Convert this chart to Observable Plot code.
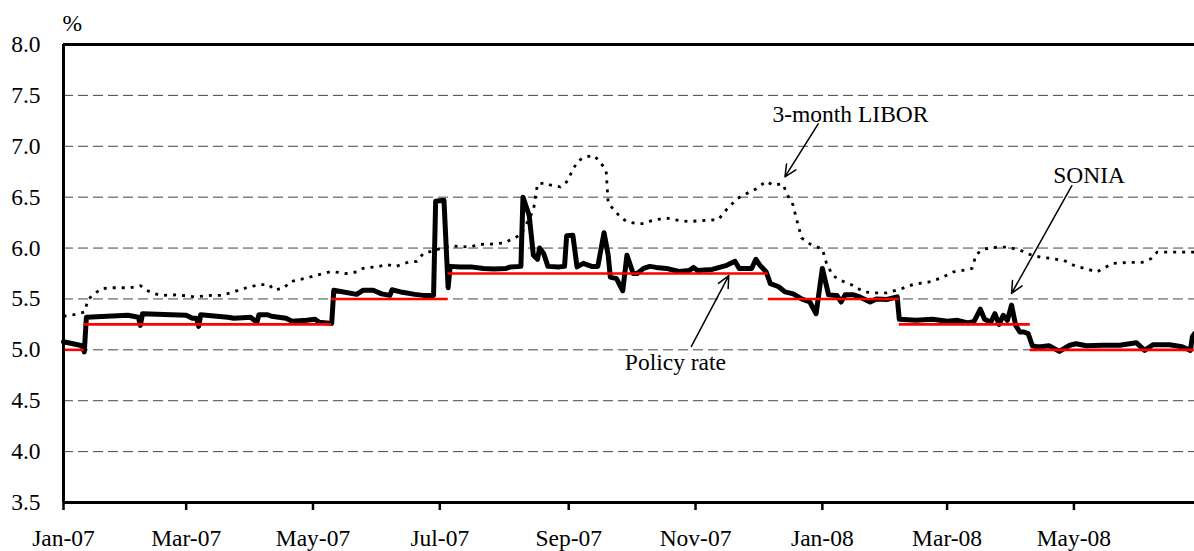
<!DOCTYPE html>
<html>
<head>
<meta charset="utf-8">
<script src="https://cdn.jsdelivr.net/npm/d3@7"></script>
<script src="https://cdn.jsdelivr.net/npm/@observablehq/plot@0.6"></script>
<style>
  html, body { margin: 0; padding: 0; background: #fff; }
  #chart svg g[aria-label="x-axis tick"] path,
  #chart svg g[aria-label="x-axis"] .tick line { stroke-width: 2.5px; stroke: #000; }
</style>
</head>
<body>
<div id="chart"></div>
<script>
// ---- Data ----
const soniaData = [
  ["2007-01-01",5.08],["2007-01-10",5.04],["2007-01-11",4.98],["2007-01-12",5.32],
  ["2007-02-01",5.34],["2007-02-06",5.32],["2007-02-07",5.24],["2007-02-08",5.355],
  ["2007-03-01",5.34],["2007-03-04",5.31],["2007-03-06",5.31],["2007-03-07",5.23],["2007-03-08",5.345],
  ["2007-03-21",5.32],["2007-03-24",5.31],["2007-04-01",5.32],["2007-04-04",5.27],["2007-04-05",5.345],
  ["2007-04-09",5.345],["2007-04-11",5.33],["2007-04-18",5.31],["2007-04-21",5.28],["2007-04-28",5.29],
  ["2007-05-02",5.30],["2007-05-04",5.27],["2007-05-10",5.26],["2007-05-11",5.585],["2007-05-15",5.57],
  ["2007-05-22",5.545],["2007-05-25",5.585],["2007-05-30",5.585],["2007-06-03",5.55],["2007-06-07",5.535],
  ["2007-06-08",5.59],["2007-06-13",5.565],["2007-06-19",5.545],["2007-06-23",5.535],["2007-06-28",5.535],
  ["2007-06-29",6.46],["2007-07-03",6.47],["2007-07-05",5.61],["2007-07-06",5.82],["2007-07-11",5.815],
  ["2007-07-16",5.815],["2007-07-22",5.80],["2007-07-27",5.795],["2007-08-02",5.80],["2007-08-04",5.815],
  ["2007-08-09",5.82],["2007-08-10",6.50],["2007-08-13",6.32],["2007-08-15",5.93],["2007-08-17",5.89],
  ["2007-08-18",6.00],["2007-08-20",5.945],["2007-08-22",5.82],["2007-08-27",5.815],["2007-08-30",5.82],
  ["2007-08-31",6.12],["2007-09-03",6.125],["2007-09-05",5.815],["2007-09-08",5.85],["2007-09-12",5.82],
  ["2007-09-15",5.82],["2007-09-18",6.15],["2007-09-20",5.93],["2007-09-21",5.715],["2007-09-24",5.70],
  ["2007-09-27",5.58],["2007-09-29",5.93],["2007-10-02",5.75],["2007-10-04",5.75],["2007-10-07",5.80],
  ["2007-10-10",5.82],["2007-10-13",5.81],["2007-10-18",5.80],["2007-10-24",5.77],["2007-10-29",5.78],
  ["2007-10-31",5.81],["2007-11-02",5.78],["2007-11-09",5.79],["2007-11-16",5.83],["2007-11-20",5.87],
  ["2007-11-22",5.80],["2007-11-28",5.80],["2007-11-30",5.89],["2007-12-02",5.83],["2007-12-05",5.765],
  ["2007-12-07",5.65],["2007-12-11",5.62],["2007-12-14",5.57],["2007-12-18",5.55],["2007-12-22",5.50],
  ["2007-12-26",5.47],["2007-12-29",5.355],["2008-01-01",5.80],["2008-01-04",5.54],["2008-01-08",5.535],
  ["2008-01-10",5.47],["2008-01-12",5.54],["2008-01-16",5.54],["2008-01-19",5.52],["2008-01-24",5.47],
  ["2008-01-27",5.50],["2008-02-01",5.495],["2008-02-06",5.52],["2008-02-07",5.30],["2008-02-15",5.29],
  ["2008-02-23",5.30],["2008-03-01",5.28],["2008-03-06",5.29],["2008-03-11",5.265],["2008-03-14",5.28],
  ["2008-03-17",5.40],["2008-03-19",5.30],["2008-03-22",5.27],["2008-03-24",5.355],["2008-03-26",5.25],
  ["2008-03-28",5.34],["2008-03-30",5.29],["2008-04-01",5.44],["2008-04-03",5.24],["2008-04-05",5.175],
  ["2008-04-07",5.175],["2008-04-09",5.16],["2008-04-11",5.04],["2008-04-13",5.03],["2008-04-15",5.03],
  ["2008-04-19",5.04],["2008-04-24",4.985],["2008-04-29",5.045],["2008-05-02",5.06],["2008-05-07",5.04],
  ["2008-05-15",5.045],["2008-05-23",5.045],["2008-05-31",5.07],["2008-06-04",4.995],["2008-06-08",5.05],
  ["2008-06-16",5.05],["2008-06-22",5.03],["2008-06-26",4.995],["2008-06-27",5.13],["2008-06-28",5.16]
];

const liborData = [
  ["2007-01-01",5.33],["2007-01-06",5.345],["2007-01-11",5.37],["2007-01-13",5.50],["2007-01-16",5.55],
  ["2007-01-19",5.60],["2007-01-24",5.61],["2007-02-02",5.61],["2007-02-07",5.63],["2007-02-10",5.585],
  ["2007-02-14",5.55],["2007-02-17",5.535],["2007-02-25",5.54],["2007-03-05",5.52],["2007-03-13",5.535],
  ["2007-03-18",5.535],["2007-03-24",5.57],["2007-03-30",5.61],["2007-04-05",5.64],["2007-04-10",5.64],
  ["2007-04-12",5.59],["2007-04-17",5.605],["2007-04-20",5.67],["2007-04-28",5.705],["2007-05-02",5.73],
  ["2007-05-10",5.77],["2007-05-17",5.75],["2007-05-22",5.765],["2007-05-25",5.80],["2007-06-02",5.82],
  ["2007-06-05",5.84],["2007-06-10",5.82],["2007-06-15",5.856],["2007-06-20",5.87],["2007-06-23",5.945],
  ["2007-06-29",5.98],["2007-07-02",6.00],["2007-07-07",6.02],["2007-07-11",6.015],["2007-07-16",6.01],
  ["2007-07-19",6.035],["2007-07-26",6.04],["2007-08-01",6.05],["2007-08-07",6.11],["2007-08-09",6.13],
  ["2007-08-15",6.37],["2007-08-17",6.63],["2007-08-21",6.64],["2007-08-23",6.62],["2007-08-28",6.60],
  ["2007-08-31",6.65],["2007-09-05",6.845],["2007-09-08",6.89],["2007-09-13",6.91],["2007-09-16",6.85],
  ["2007-09-19",6.76],["2007-09-20",6.44],["2007-09-23",6.37],["2007-09-26",6.30],["2007-09-29",6.26],
  ["2007-10-04",6.24],["2007-10-07",6.24],["2007-10-11",6.27],["2007-10-15",6.285],["2007-10-18",6.295],
  ["2007-10-24",6.27],["2007-10-29",6.26],["2007-11-04",6.27],["2007-11-12",6.28],["2007-11-16",6.38],
  ["2007-11-21",6.485],["2007-11-25",6.53],["2007-11-30",6.58],["2007-12-05",6.655],["2007-12-08",6.62],
  ["2007-12-13",6.63],["2007-12-15",6.53],["2007-12-18",6.42],["2007-12-19",6.33],["2007-12-22",6.10],
  ["2007-12-26",6.04],["2008-01-01",5.99],["2008-01-03",5.85],["2008-01-06",5.73],["2008-01-10",5.68],
  ["2008-01-15",5.64],["2008-01-21",5.57],["2008-01-26",5.56],["2008-02-01",5.56],["2008-02-08",5.60],
  ["2008-02-14",5.645],["2008-02-21",5.665],["2008-02-27",5.705],["2008-03-04",5.765],["2008-03-11",5.79],
  ["2008-03-13",5.80],["2008-03-15",5.94],["2008-03-19",5.99],["2008-03-25",6.01],["2008-03-30",6.01],
  ["2008-04-05",5.98],["2008-04-10",5.935],["2008-04-15",5.91],["2008-04-19",5.90],["2008-04-26",5.88],
  ["2008-05-02",5.82],["2008-05-08",5.79],["2008-05-12",5.765],["2008-05-15",5.80],["2008-05-20",5.85],
  ["2008-05-28",5.86],["2008-06-03",5.86],["2008-06-07",5.895],["2008-06-10",5.96],["2008-06-16",5.96],
  ["2008-06-22",5.96],["2008-06-28",5.96]
];

// Bank Rate: [from, to, rate]
const policyData = [
  ["2007-01-01","2007-01-11",5.00],["2007-01-11","2007-05-10",5.25],["2007-05-10","2007-07-05",5.50],
  ["2007-07-05","2007-12-06",5.75],["2007-12-06","2008-02-07",5.50],["2008-02-07","2008-04-10",5.25],
  ["2008-04-10","2008-06-28",5.00]
];

const xDomain = ["2007-01-01","2008-06-28"];
const xTickDates = ["2007-01-01","2007-03-01","2007-05-01","2007-07-01","2007-09-01","2007-11-01",
                    "2008-01-01","2008-03-01","2008-05-01"];
const yTicks = [3.5,4.0,4.5,5.0,5.5,6.0,6.5,7.0,7.5,8.0];
const gridValues = [4.0,4.5,5.0,5.5,6.0,6.5,7.0,7.5];

// annotation labels: [text, date, value]
const annotLabels = [
  ["3-month LIBOR","2007-12-08",7.313],
  ["SONIA","2008-04-21",6.715],
  ["Policy rate","2007-09-28",4.872]
];
// annotation arrows: [fromDate, fromValue, toDate, toValue]
const annotArrows = [
  ["2007-12-30",7.22,"2007-12-14",6.70],
  ["2008-04-30",6.613,"2008-04-01",5.554],
  ["2007-10-30",5.034,"2007-11-17",5.73]
];

// ---- build tables ----
const D = s => new Date(s + "T00:00:00Z");
const sonia = soniaData.map(([d,v]) => ({date: D(d), value: v}));
const libor = liborData.map(([d,v]) => ({date: D(d), value: v}));
const policy = policyData.map(([a,b,r]) => ({from: D(a), to: D(b), rate: r}));
const labels = annotLabels.map(([t,d,v]) => ({text: t, date: D(d), value: v}));
const arrows = annotArrows.map(([d1,v1,d2,v2]) => ({x1: D(d1), y1: v1, x2: D(d2), y2: v2}));
const xTicks = xTickDates.map(D);

const chart = Plot.plot({
  width: 1194,
  height: 551,
  marginLeft: 63,
  marginRight: 0,
  marginTop: 44,
  marginBottom: 49,
  style: {
    fontFamily: "'Liberation Serif', 'Times New Roman', serif",
    fontSize: "23.5px",
    color: "#000",
    background: "#fff",
    overflow: "visible"
  },
  x: {
    type: "utc",
    domain: xDomain.map(D),
    ticks: xTicks,
    tickFormat: d3.utcFormat("%b-%y"),
    tickSize: 8,
    tickPadding: 19,
    label: null
  },
  y: {
    domain: [3.5, 8],
    ticks: yTicks,
    tickFormat: d3.format(".1f"),
    tickSize: 0,
    tickPadding: 23,
    label: null
  },
  marks: [
    Plot.ruleY(gridValues, {stroke: "#444", strokeWidth: 1, strokeDasharray: "10,5"}),
    Plot.line(libor, {x: "date", y: "value", stroke: "#000", strokeWidth: 2.8, strokeDasharray: "3,6", strokeLinecap: "butt"}),
    Plot.line(sonia, {x: "date", y: "value", stroke: "#000", strokeWidth: 5, strokeLinejoin: "round"}),
    Plot.ruleY(policy, {y: "rate", x1: "from", x2: "to", stroke: "#ff0000", strokeWidth: 2.6}),
    Plot.ruleY([8], {stroke: "#000", strokeWidth: 3}),
    Plot.ruleY([3.5], {stroke: "#000", strokeWidth: 3}),
    Plot.ruleX([D(xDomain[0])], {stroke: "#000", strokeWidth: 3}),
    Plot.arrow(arrows, {x1: "x1", y1: "y1", x2: "x2", y2: "y2", stroke: "#000", strokeWidth: 1.5, headLength: 13, headAngle: 50}),
    Plot.text(labels, {x: "date", y: "value", text: "text", textAnchor: "start", lineAnchor: "middle", fill: "#000"}),
    Plot.text(["%"], {frameAnchor: "top-left", textAnchor: "start", lineAnchor: "bottom", dx: -1, dy: -14, fill: "#000"})
  ]
});
document.getElementById("chart").appendChild(chart);
</script>
</body>
</html>
